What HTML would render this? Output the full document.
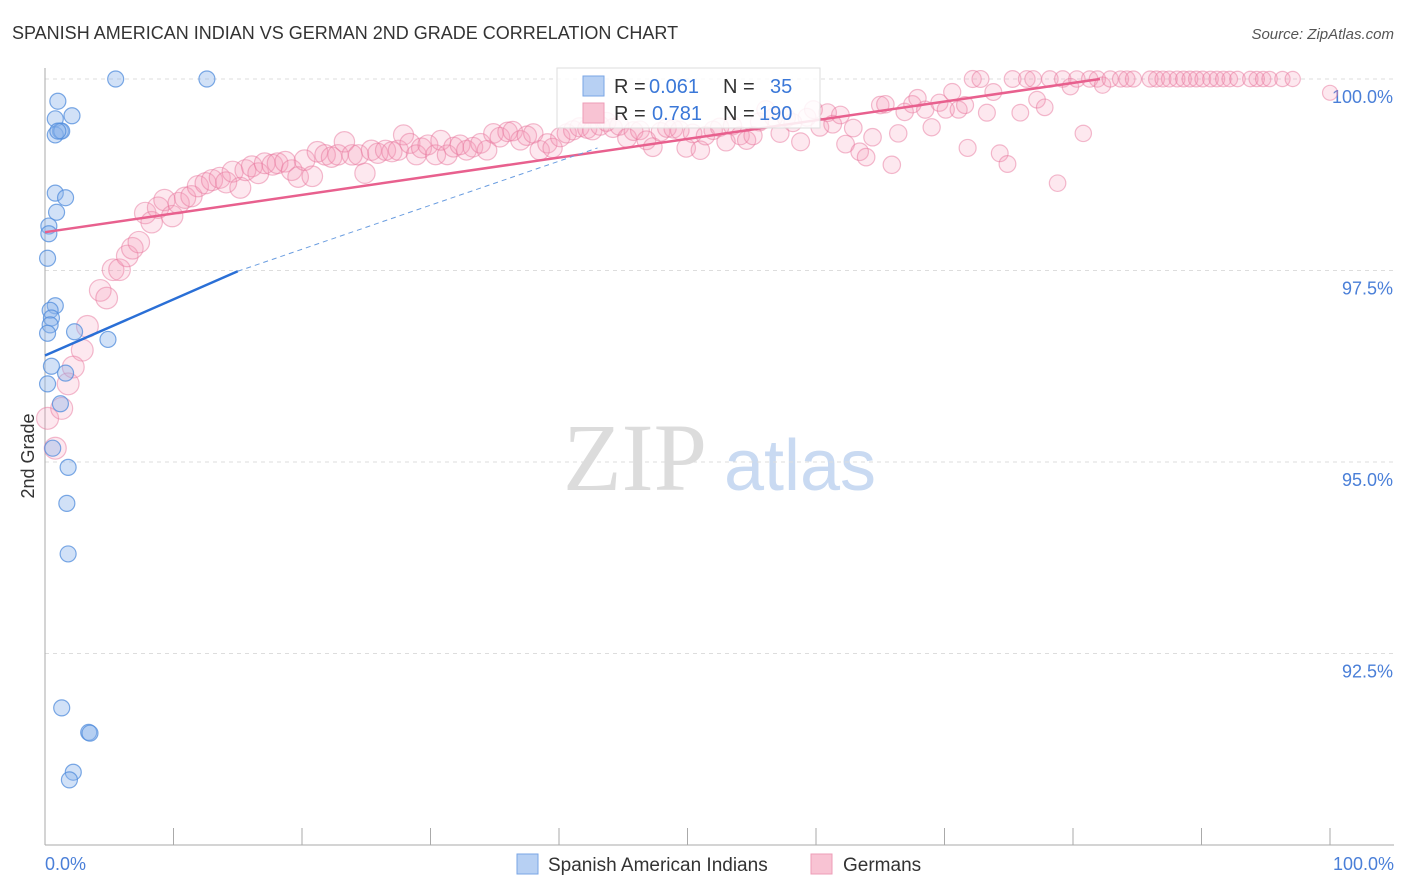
<!DOCTYPE html>
<html><head><meta charset="utf-8"><style>
body{margin:0;background:#fff;font-family:"Liberation Sans",sans-serif;}
svg{display:block}
</style></head><body>
<svg id="chart" width="1406" height="892" xmlns="http://www.w3.org/2000/svg">
<text x="12" y="39" font-size="18" fill="#333">SPANISH AMERICAN INDIAN VS GERMAN 2ND GRADE CORRELATION CHART</text>
<text x="1394" y="39" font-size="15" fill="#555" font-style="italic" text-anchor="end">Source: ZipAtlas.com</text>
<g>
<text x="635" y="490" font-size="96" fill="#dcdcdc" font-family="Liberation Serif,serif" text-anchor="middle">ZIP</text>
<text x="800" y="490" font-size="72" fill="#c9daf2" text-anchor="middle">atlas</text>
</g>
<g id="grid"></g>
<g id="axes"></g>
<g id="pts"></g>
<g id="lines"></g>
<text transform="translate(34,456) rotate(-90)" font-size="18" fill="#333" text-anchor="middle">2nd Grade</text>
<text x="45" y="870" font-size="18" fill="#4a7fd8">0.0%</text>
<text x="1394" y="870" font-size="18" fill="#4a7fd8" text-anchor="end">100.0%</text>
<g>
<rect x="557" y="68" width="263" height="60" fill="#fff" fill-opacity="0.85" stroke="#ddd"/>
<rect x="583" y="76" width="21" height="20" fill="#b7d0f3" stroke="#7aa6e6"/>
<rect x="583" y="103" width="21" height="20" fill="#f8c3d3" stroke="#ee9cb7"/>
<text y="93" font-size="20" fill="#333"><tspan x="614">R =</tspan><tspan x="649" fill="#3b78d8">0.061</tspan><tspan x="723">N =</tspan><tspan x="770" fill="#3b78d8">35</tspan></text>
<text y="120" font-size="20" fill="#333"><tspan x="614">R =</tspan><tspan x="652" fill="#3b78d8">0.781</tspan><tspan x="723">N =</tspan><tspan x="759" fill="#3b78d8">190</tspan></text>
</g>
<g>
<rect x="517" y="854" width="21" height="20" fill="#b7d0f3" stroke="#7aa6e6"/>
<text x="548" y="871" font-size="19" fill="#333">Spanish American Indians</text>
<rect x="811" y="854" width="21" height="20" fill="#f8c3d3" stroke="#ee9cb7"/>
<text x="843" y="871" font-size="19" fill="#333">Germans</text>
</g>
</svg>
<script>
const yTicks=[100,97.5,95,92.5];
const yTickLabels=["100.0%","97.5%","95.0%","92.5%"];
const blueX=[5.5,12.6,1.0,2.1,0.8,1.2,0.8,1.3,0.8,1.6,0.9,0.3,0.3,0.2,0.8,0.4,0.5,0.4,0.2,2.3,4.9,0.5,1.6,0.2,1.2,0.6,1.8,1.7,1.8,1.3,3.4,3.5,2.2,1.9,1.0];
const blueY=[100,100,99.71,99.52,99.48,99.32,99.27,99.32,98.51,98.45,98.26,98.08,97.98,97.66,97.04,96.98,96.88,96.79,96.68,96.70,96.60,96.25,96.16,96.02,95.76,95.18,94.93,94.46,93.80,91.79,91.47,91.46,90.95,90.85,99.32];
const pinkX=[0.2,0.8,1.3,1.8,2.2,2.9,3.3,4.3,4.8,5.3,5.8,6.4,6.8,7.3,7.8,8.3,8.8,9.3,9.9,10.4,10.9,11.4,11.9,12.5,13.0,13.6,14.1,14.6,15.2,15.6,16.1,16.6,17.1,17.7,18.1,18.7,19.2,19.7,20.2,20.8,21.2,21.8,22.3,22.8,23.3,23.9,24.4,24.9,25.4,25.9,26.5,27.0,27.5,27.9,28.4,28.9,29.3,29.8,30.4,30.8,31.3,31.8,32.3,32.8,33.3,33.9,34.4,34.9,35.4,36.0,36.4,37.0,37.5,38.0,38.5,39.1,39.5,40.1,40.6,41.1,41.6,42.2,42.6,43.2,43.7,44.2,44.7,45.3,45.8,46.3,46.8,47.3,47.9,48.4,48.9,49.4,49.9,50.4,51.0,51.4,52.0,52.5,53.0,53.5,54.1,54.6,55.1,55.6,56.1,56.7,57.2,57.7,58.2,58.8,59.3,59.8,60.3,60.9,61.3,61.9,62.3,62.9,63.4,63.9,64.4,65.0,65.4,65.9,66.4,66.9,67.5,67.9,68.5,69.0,69.6,70.1,70.6,71.1,71.6,71.8,72.2,72.8,73.3,73.8,74.3,74.9,75.3,75.9,76.4,76.9,77.2,77.8,78.2,78.8,79.2,79.8,80.3,80.8,81.3,81.9,82.3,82.9,83.7,84.2,84.7,86.0,86.5,87.0,87.5,88.1,88.6,89.1,89.6,90.1,90.7,91.2,91.7,92.2,92.8,93.8,94.3,94.8,95.3,96.3,97.1,100];
const pinkY=[95.57,95.18,95.70,96.02,96.24,96.46,96.77,97.24,97.14,97.51,97.51,97.69,97.79,97.87,98.25,98.13,98.32,98.42,98.21,98.38,98.45,98.47,98.60,98.64,98.68,98.71,98.65,98.79,98.58,98.81,98.86,98.77,98.90,98.88,98.90,98.92,98.81,98.72,98.94,98.73,99.05,99.01,98.98,99.01,99.18,99.01,99.01,98.77,99.07,99.03,99.07,99.05,99.07,99.27,99.16,99.01,99.10,99.14,99.01,99.20,99.01,99.11,99.14,99.07,99.11,99.16,99.07,99.29,99.24,99.31,99.32,99.20,99.26,99.29,99.07,99.16,99.10,99.24,99.29,99.33,99.37,99.35,99.33,99.39,99.44,99.36,99.39,99.23,99.32,99.33,99.20,99.11,99.31,99.36,99.35,99.33,99.10,99.29,99.07,99.26,99.33,99.37,99.18,99.39,99.26,99.20,99.26,99.44,99.60,99.50,99.29,99.49,99.43,99.18,99.50,99.60,99.37,99.56,99.41,99.53,99.15,99.36,99.05,98.98,99.24,99.66,99.67,98.88,99.29,99.57,99.67,99.75,99.60,99.37,99.69,99.60,99.83,99.60,99.66,99.10,100,100,99.56,99.83,99.03,98.89,100,99.56,100,100,99.73,99.63,100,98.64,100,99.90,100,99.29,100,100,99.92,100,100,100,100,100,100,100,100,100,100,100,100,100,100,100,100,100,100,100,100,100,100,100,100,99.82];
const blueFit=[[0,96.39],[15,97.49]];
const blueDash=[[15,97.49],[43,99.1]];
const pinkFit=[[0,98.00],[82.1,100]];
const L=45,R=1330,Y100=79,PX_PER=191.5/2.5;
const sx=v=>L+(R-L)*v/100;
const sy=v=>Y100+(100-v)*PX_PER;
const NS="http://www.w3.org/2000/svg";
function mk(tag,attrs,parent){const e=document.createElementNS(NS,tag);for(const k in attrs)e.setAttribute(k,attrs[k]);parent.appendChild(e);return e;}
const grid=document.getElementById('grid'),axes=document.getElementById('axes'),pts=document.getElementById('pts'),lines=document.getElementById('lines');
yTicks.forEach((t,i)=>{
  const g=mk('line',{x1:L,x2:1394,y1:sy(t),y2:sy(t),stroke:'#ddd','stroke-dasharray':'4,4'},grid);
  
  
  const tx=mk('text',{x:1393,y:sy(t)+24,'font-size':18,fill:'#4a7fd8','text-anchor':'end'},axes);
  tx.textContent=yTickLabels[i];
  
  
});
const ya=mk('line',{x1:L,x2:L,y1:68,y2:845,stroke:'#aaa'},axes);


const xa=mk('line',{x1:L,x2:1394,y1:845,y2:845,stroke:'#aaa'},axes);


for(let i=0;i<=10;i++){
  const tk=mk('line',{x1:sx(i*10),x2:sx(i*10),y1:828,y2:845,stroke:'#aaa'},axes);
  
  
}
pinkX.forEach((x,i)=>{
  if(pinkY[i]===undefined)return;
  const r=11-3.5*x/100;
  const c=mk('circle',{cx:sx(x),cy:sy(pinkY[i]),r:r,fill:'rgba(244,150,180,0.22)',stroke:'rgba(232,120,158,0.5)','stroke-width':1.2},pts);
  
  
});
blueX.forEach((x,i)=>{
  const c=mk('circle',{cx:sx(x),cy:sy(blueY[i]),r:8,fill:'rgba(140,180,235,0.4)',stroke:'rgba(80,140,220,0.75)','stroke-width':1.2},pts);
  
  
});
const pl=mk('line',{x1:sx(pinkFit[0][0]),y1:sy(pinkFit[0][1]),x2:sx(pinkFit[1][0]),y2:sy(pinkFit[1][1]),stroke:'#e8608e','stroke-width':2.5},lines);


const bl=mk('line',{x1:sx(blueFit[0][0]),y1:sy(blueFit[0][1]),x2:sx(blueFit[1][0]),y2:sy(blueFit[1][1]),stroke:'#2a6fd6','stroke-width':2.5},lines);


const bd=mk('line',{x1:sx(blueDash[0][0]),y1:sy(blueDash[0][1]),x2:sx(blueDash[1][0]),y2:sy(blueDash[1][1]),stroke:'#6a9de0','stroke-width':1,'stroke-dasharray':'5,4'},lines);


</script>
</body></html>
